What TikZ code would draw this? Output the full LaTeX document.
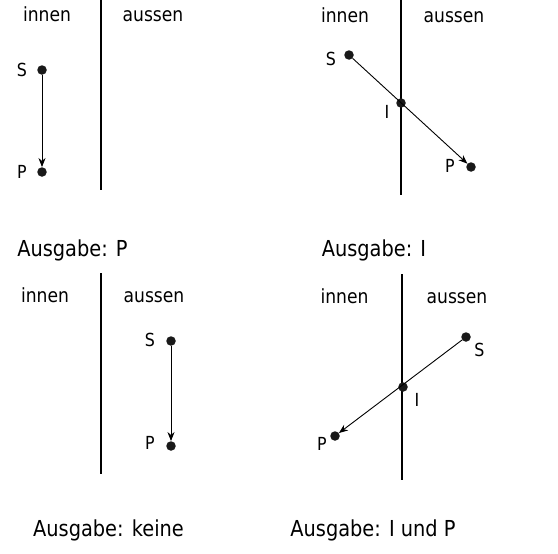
\documentclass[tikz,border=0pt]{standalone}
\usepackage{fontspec}
\setmainfont{DejaVu Sans}[FakeStretch=0.88]
\usetikzlibrary{arrows.meta}
\begin{document}
\begin{tikzpicture}[x=1pt,y=-1pt,
  wall/.style={line width=1.3pt},
  pt/.style={circle,fill=black!90,inner sep=0pt,minimum size=9.5pt},
  ray/.style={line width=0.9pt,-{Stealth[length=9pt,width=7pt]}},
  side/.style={anchor=base,font=\fontsize{19.5}{19.5}\selectfont},
  lbl/.style={anchor=base,font=\fontsize{18}{18}\selectfont},
  captxt/.style={anchor=base,font=\fontsize{22}{22}\selectfont}]
\useasboundingbox (0,0) rectangle (558,554);
% Panel 1
\coordinate (w1a) at (101,0); \coordinate (w1b) at (101,190);
\draw[wall] (w1a) -- (w1b);
\node[side] (in1) at (47,21) {innen};
\node[side] (out1) at (153,21) {aussen};
\node[pt] (s1) at (42,70) {};
\node[pt] (p1) at (42,172) {};
\node[lbl] (ls1) at (22,76) {S};
\node[lbl] (lp1) at (22,178) {P};
\draw[ray] (s1) -- (p1);
\node[captxt] (c1) at (72.5,256) {Ausgabe: P};
% Panel 2
\coordinate (w2a) at (401,0); \coordinate (w2b) at (401,195);
\draw[wall] (w2a) -- (w2b);
\node[side] (in2) at (345,22) {innen};
\node[side] (out2) at (454,22) {aussen};
\node[pt] (s2) at (349,55) {};
\node[pt] (i2) at (401,103) {};
\node[pt] (p2) at (471,167) {};
\node[lbl] (ls2) at (331,65) {S};
\node[lbl] (li2) at (387,118) {I};
\node[lbl] (lp2) at (450,172) {P};
\draw[ray] (s2) -- (p2);
\node[captxt] (c2) at (374,256) {Ausgabe: I};
% Panel 3
\coordinate (w3a) at (101,273); \coordinate (w3b) at (101,474);
\draw[wall] (w3a) -- (w3b);
\node[side] (in3) at (45,302) {innen};
\node[side] (out3) at (154,302) {aussen};
\node[pt] (s3) at (171,341) {};
\node[pt] (p3) at (171,446) {};
\node[lbl] (ls3) at (150,346) {S};
\node[lbl] (lp3) at (150,449) {P};
\draw[ray] (s3) -- (p3);
\node[captxt] (c3) at (108.5,536) {Ausgabe: keine};
% Panel 4
\coordinate (w4a) at (402,274); \coordinate (w4b) at (402,480);
\draw[wall] (w4a) -- (w4b);
\node[side] (in4) at (344.5,303) {innen};
\node[side] (out4) at (457,303) {aussen};
\node[pt] (s4) at (466,337) {};
\node[pt] (i4) at (403,387) {};
\node[pt] (p4) at (335,436) {};
\node[lbl] (ls4) at (479.5,356) {S};
\node[lbl] (li4) at (417,406) {I};
\node[lbl] (lp4) at (322,450) {P};
\draw[ray] (s4) -- (p4);
\node[captxt] (c4) at (373,536) {Ausgabe: I und P};
\end{tikzpicture}
\end{document}
